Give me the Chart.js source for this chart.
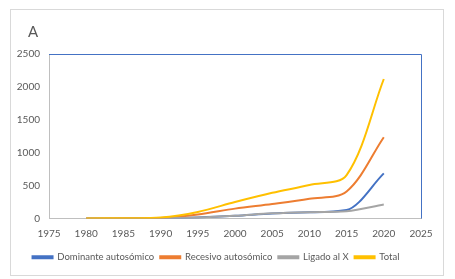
<!DOCTYPE html>
<html>
<head>
<meta charset="utf-8">
<script src="https://cdn.jsdelivr.net/npm/chart.js@4"></script>
<style>
  html, body { margin: 0; padding: 0; background: #fff; }
  #frame {
    position: absolute; left: 10px; top: 9px; width: 432px; height: 265px;
    border: 1px solid #d9d9d9; background: #fff;
  }
  #panel {
    position: absolute; left: 17px; top: 12px;
    font: 15px Lato, "Open Sans", sans-serif; color: #595959;
  }
  canvas { display: block; }
</style>
</head>
<body>
<div id="frame">
  <div id="panel">A</div>
  <canvas id="chart" width="432" height="265"></canvas>
</div>
<script>
// Values (every 5 years)
const years = [1980, 1985, 1990, 1995, 2000, 2005, 2010, 2015, 2020];
const dominante = [0, 1, 3, 15, 40, 75, 95, 130, 686];
const recesivo = [0, 2, 8, 60, 150, 220, 300, 410, 1235];
const ligadoX = [0, 1, 3, 15, 42, 78, 96, 112, 213];
const total = [0, 5, 15, 100, 250, 390, 510, 660, 2120];

const xTicks = [1975, 1980, 1985, 1990, 1995, 2000, 2005, 2010, 2015, 2020, 2025];
const yTicks = [0, 500, 1000, 1500, 2000, 2500];

const FONT = "Lato, 'Open Sans', sans-serif";
const TXT = "#595959";

const toPts = (vals) => years.map((y, i) => ({ x: y, y: vals[i] }));

// order: higher = drawn further below (Total ends up on top, like Excel)
function series(label, vals, color, order, monotone) {
  return {
    label,
    data: toPts(vals),
    borderColor: color,
    backgroundColor: color,
    borderWidth: 2,
    pointRadius: 0,
    tension: 0.33,
    cubicInterpolationMode: monotone ? "monotone" : "default",
    fill: false,
    order,
  };
}

// blue outline on top and right of the plot area
const plotBox = {
  id: "plotBox",
  afterDatasetsDraw(chart) {
    const { ctx, chartArea: a } = chart;
    ctx.save();
    ctx.strokeStyle = "#4472c4";
    ctx.lineWidth = 1;
    ctx.beginPath();
    ctx.moveTo(a.left, a.top + 0.5);
    ctx.lineTo(a.right + 0.5, a.top + 0.5);
    ctx.lineTo(a.right + 0.5, a.bottom);
    ctx.stroke();
    ctx.restore();
  },
};

new Chart(document.getElementById("chart"), {
  type: "line",
  data: {
    datasets: [
      series("Dominante autosómico", dominante, "#4472c4", 4, true),
      series("Recesivo autosómico", recesivo, "#ed7d31", 3),
      series("Ligado al X", ligadoX, "#a5a5a5", 2, true),
      series("Total", total, "#ffc000", 1),
    ],
  },
  options: {
    responsive: false,
    animation: false,
    layout: { padding: { left: 0, right: 22, top: 44, bottom: 3 } },
    plugins: {
      legend: {
        position: "bottom",
        labels: {
          color: TXT,
          font: { family: FONT, size: 9.5 },
          boxWidth: 20,
          boxHeight: 2,
          padding: 6,
          sort: (a, b) => a.datasetIndex - b.datasetIndex,
        },
      },
      tooltip: { enabled: false },
    },
    scales: {
      x: {
        type: "linear",
        min: 1975,
        max: 2025,
        afterBuildTicks: (axis) => { axis.ticks = xTicks.map((v) => ({ value: v })); },
        afterFit: (axis) => { axis.height = 28; },
        ticks: { color: TXT, font: { family: FONT, size: 10 }, maxRotation: 0, padding: 9, callback: (v) => String(v) },
        grid: { display: false, drawTicks: false, tickLength: 0 },
        border: { color: "#bfbfbf" },
      },
      y: {
        min: 0,
        max: 2500,
        afterBuildTicks: (axis) => { axis.ticks = yTicks.map((v) => ({ value: v })); },
        afterFit: (axis) => { axis.width = 38; },
        ticks: { color: TXT, font: { family: FONT, size: 10 }, padding: 9, callback: (v) => String(v) },
        grid: { display: false, drawTicks: false, tickLength: 0 },
        border: { color: "#bfbfbf" },
      },
    },
  },
  plugins: [plotBox],
});
</script>
</body>
</html>
